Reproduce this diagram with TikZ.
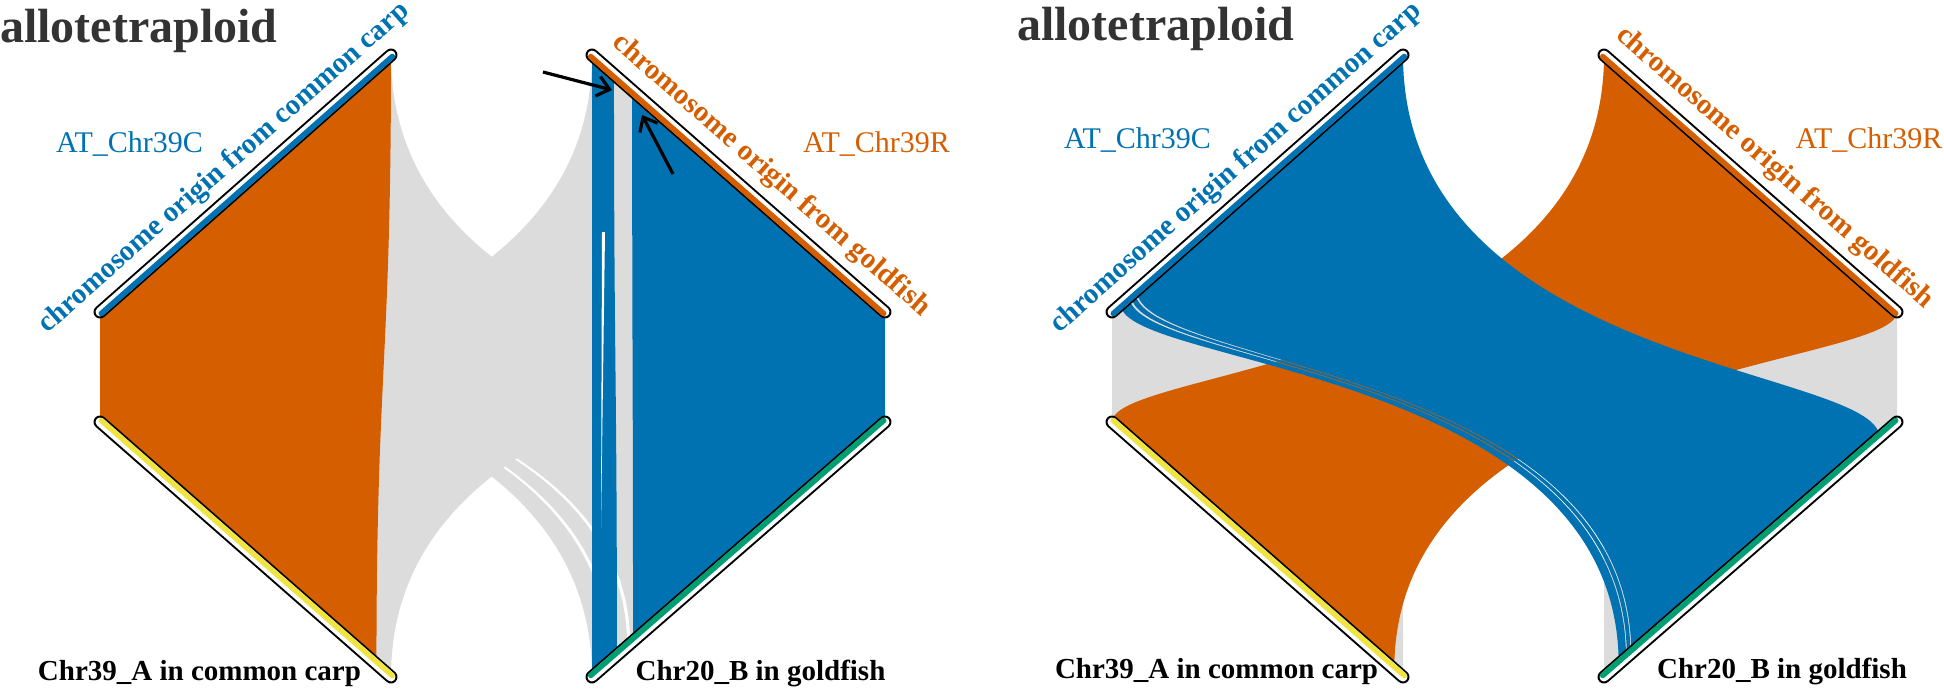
\documentclass[tikz,border=0pt]{standalone}
\usepackage{fontspec}
\setmainfont{Liberation Serif}
\usetikzlibrary{arrows.meta,calc}
\definecolor{BandOrange}{HTML}{D55E00}
\definecolor{BandBlue}{HTML}{0072B2}
\definecolor{BandGray}{HTML}{DCDCDC}
\definecolor{ChrYellow}{HTML}{F0E442}
\definecolor{ChrGreen}{HTML}{009E73}
\definecolor{TitleGray}{HTML}{333333}

% band from segment [#3,#4] of bar #2 to segment [#6,#7] of bar #5
\newcommand{\synband}[8]{%
  \coordinate (u1) at ($(#2-a)!#3!(#2-b)$);
  \coordinate (u2) at ($(#2-a)!#4!(#2-b)$);
  \coordinate (v1) at ($(#5-a)!#6!(#5-b)$);
  \coordinate (v2) at ($(#5-a)!#7!(#5-b)$);
  \fill[#1] (u1) -- (u2) .. controls (u2 |- #8) and (v2 |- #8) .. (v2)
    -- (v1) .. controls (v1 |- #8) and (u1 |- #8) .. (u1) -- cycle;}
% chromosome bar, #3 turns towards the bands
\newcommand{\chrbar}[3]{%
  \draw[line width=13pt, line cap=round] (#1-a) -- (#1-b);
  \draw[white, line width=9pt, line cap=round] (#1-a) -- (#1-b);
  \coordinate (barofs) at ($(#1-a)!2pt!#3:(#1-b)$);
  \draw[#2, line width=5.5pt, line cap=round] (barofs) -- ($(#1-b)+(barofs)-(#1-a)$);}

\begin{document}
\begin{tikzpicture}[x=1pt,y=-1pt,
    paneltitle/.style={inner sep=0pt, text=TitleGray, font=\fontsize{48pt}{52pt}\selectfont\bfseries},
    atlabel/.style={inner sep=0pt, font=\fontsize{30pt}{34pt}\selectfont},
    chrlabel/.style={inner sep=0pt, font=\fontsize{29pt}{32pt}\selectfont\bfseries},
    originlabel/.style={inner sep=0pt, font=\fontsize{29pt}{33pt}\selectfont\bfseries},
    pointer/.style={line width=3.2pt, -{Straight Barb[length=12pt,width=20pt]}}]
\useasboundingbox (0,0) rectangle (1944,691);

% bar ends of both panels
\foreach \pan/\dx in {left/0,right/1012}{
  \coordinate (\pan C-a) at (100+\dx,312);
  \coordinate (\pan C-b) at (391+\dx,55);
  \coordinate (\pan R-a) at (592+\dx,55);
  \coordinate (\pan R-b) at (885+\dx,312);
  \coordinate (\pan A-a) at (100+\dx,422);
  \coordinate (\pan A-b) at (391+\dx,677);
  \coordinate (\pan B-a) at (592+\dx,677);
  \coordinate (\pan B-b) at (885+\dx,422);
  \coordinate (\pan mid) at (492+\dx,367);
}

% left panel
\synband{BandGray}{leftC}{0}{0.03}{leftB}{0}{0.06}{leftmid}
\synband{BandGray}{leftC}{0.035}{0.06}{leftB}{0.07}{0.12}{leftmid}
\synband{BandGray}{leftC}{0.065}{1}{leftB}{0.13}{1}{leftmid}
\synband{BandGray}{leftR}{0}{1}{leftA}{0}{1}{leftmid}
\synband{BandOrange}{leftC}{0}{1}{leftA}{0}{0.95}{leftmid}
\synband{BandBlue}{leftR}{0}{0.075}{leftB}{0}{0.085}{leftmid}
\synband{BandBlue}{leftR}{0.137}{1}{leftB}{0.14}{1}{leftmid}
\fill[white] (602,232) -- (605,232) -- (601,528) -- cycle;

% right panel
\synband{BandGray}{rightC}{0}{1}{rightA}{0}{1}{rightmid}
\synband{BandGray}{rightR}{0}{1}{rightB}{0}{1}{rightmid}
\synband{BandOrange}{rightR}{0}{1}{rightA}{0}{0.97}{rightmid}
\synband{BandBlue}{rightC}{0.03}{0.06}{rightB}{0.05}{0.075}{rightmid}
\synband{BandBlue}{rightC}{0.066}{0.08}{rightB}{0.078}{0.09}{rightmid}
\synband{BandBlue}{rightC}{0.085}{1}{rightB}{0.093}{0.94}{rightmid}

% chromosomes
\foreach \pan in {left,right}{
  \chrbar{\pan C}{BandBlue}{-90}
  \chrbar{\pan R}{BandOrange}{-90}
  \chrbar{\pan A}{ChrYellow}{90}
  \chrbar{\pan B}{ChrGreen}{90}
}

% labels
\node[paneltitle, anchor=base west] (titleleft) at (0,42) {allotetraploid};
\node[paneltitle, anchor=base west] (titleright) at (1017,40) {allotetraploid};
\node[atlabel, text=BandBlue, anchor=base] (leftCname) at (129.5,152) {AT\_Chr39C};
\node[atlabel, text=BandOrange, anchor=base] (leftRname) at (876.5,152) {AT\_Chr39R};
\node[atlabel, text=BandBlue, anchor=base] (rightCname) at (1137.5,148) {AT\_Chr39C};
\node[atlabel, text=BandOrange, anchor=base] (rightRname) at (1869,148) {AT\_Chr39R};
\node[chrlabel, anchor=base] (leftAname) at (199.5,680) {Chr39\_A in common carp};
\node[chrlabel, anchor=base] (leftBname) at (760.5,680) {Chr20\_B in goldfish};
\node[chrlabel, anchor=base] (rightAname) at (1216.5,678) {Chr39\_A in common carp};
\node[chrlabel, anchor=base] (rightBname) at (1782,678) {Chr20\_B in goldfish};
\foreach \pan/\rpos in {left/0.55,right/0.52}{
  \path (\pan C-a) -- (\pan C-b) node[originlabel, text=BandBlue, pos=0.485, sloped, above=12pt] (\pan Corigin) {chromosome origin from common carp};
  \path (\pan R-a) -- (\pan R-b) node[originlabel, text=BandOrange, pos=\rpos, sloped, above=14pt] (\pan Rorigin) {chromosome origin from goldfish};
}

% pointers to the gap
\coordinate (gaptailA) at (543,72);
\coordinate (gapheadA) at (612,90);
\coordinate (gaptailB) at (673,174);
\coordinate (gapheadB) at (642,115);
\draw[pointer] (gaptailA) -- (gapheadA);
\draw[pointer] (gaptailB) -- (gapheadB);
\end{tikzpicture}
\end{document}
